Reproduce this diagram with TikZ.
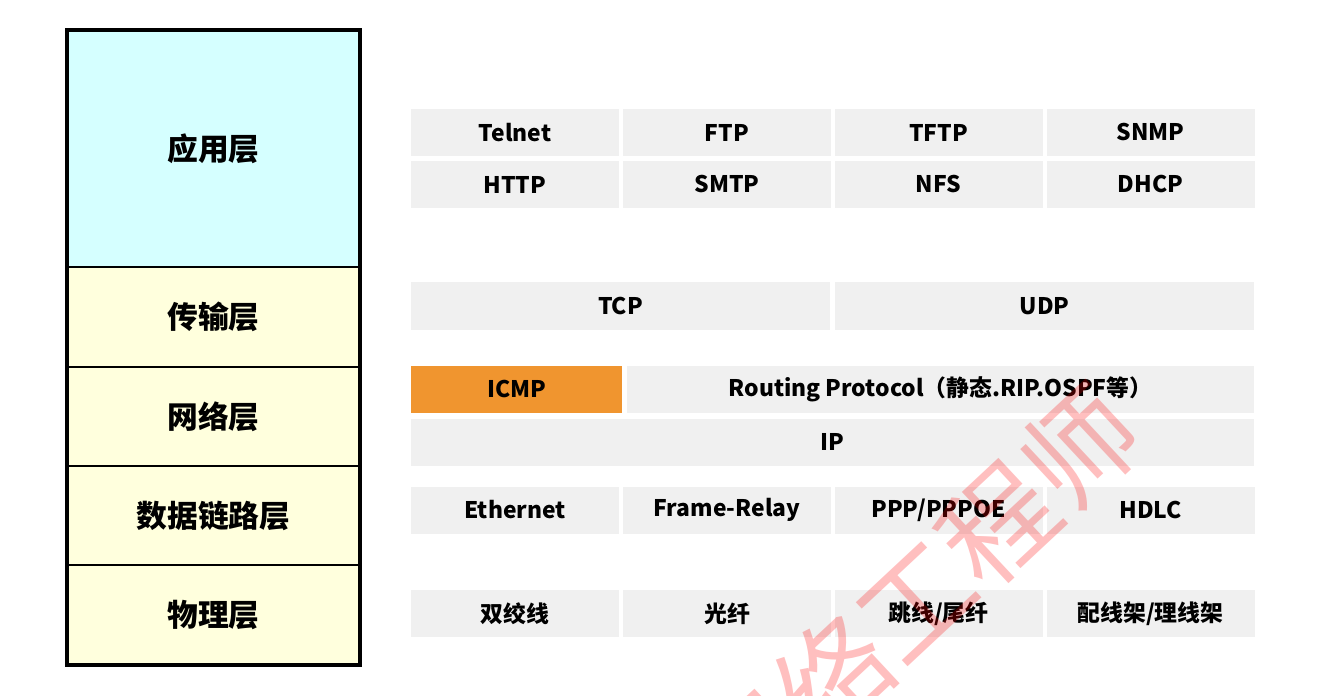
\documentclass[tikz,border=0pt]{standalone}
\usepackage{fontspec}
\setmainfont{Noto Sans CJK SC}
\definecolor{appfill}{HTML}{D5FFFF}
\definecolor{layerfill}{HTML}{FFFFDD}
\definecolor{cellfill}{HTML}{F0F0F0}
\definecolor{icmpfill}{HTML}{F0952F}
\begin{document}
\begin{tikzpicture}[
  layer/.style={draw, line width=1.1pt, fill=layerfill, minimum width=5.82cm, minimum height=1.98cm, inner sep=0pt, font=\fontsize{17.5}{20}\selectfont\bfseries},
  cell/.style={fill=cellfill, minimum width=4.16cm, minimum height=0.94cm, inner sep=0pt, font=\fontsize{13}{15}\selectfont\bfseries}
]
\useasboundingbox (0,0) rectangle (26.7,-13.92);
% layers on the left
\node[layer, fill=appfill, minimum height=4.72cm] (app) at (4.27,-2.98) {应用层};
\node[layer] (trans) at (4.27,-6.34) {传输层};
\node[layer] (net) at (4.27,-8.33) {网络层};
\node[layer] (link) at (4.27,-10.31) {数据链路层};
\node[layer] (phys) at (4.27,-12.29) {物理层};
\draw[line width=1.8pt] (app.north west) rectangle (phys.south east);
% application protocols
\node[cell] (telnet) at (10.3,-2.65) {Telnet};
\node[cell] (ftp) at (14.54,-2.65) {FTP};
\node[cell] (tftp) at (18.77,-2.65) {TFTP};
\node[cell] (snmp) at (23.01,-2.65) {SNMP};
\node[cell] (http) at (10.3,-3.69) {HTTP};
\node[cell] (smtp) at (14.54,-3.69) {SMTP};
\node[cell] (nfs) at (18.77,-3.69) {NFS};
\node[cell] (dhcp) at (23.01,-3.69) {DHCP};
% transport
\node[cell, minimum width=8.38cm] (tcp) at (12.41,-6.12) {TCP};
\node[cell, minimum width=8.38cm] (udp) at (20.89,-6.12) {UDP};
% network
\node[cell, fill=icmpfill, minimum width=4.22cm] (icmp) at (10.33,-7.79) {ICMP};
\node[cell, minimum width=12.54cm] (routing) at (18.81,-7.79) {Routing Protocol（静态.RIP.OSPF等）};
\node[cell, minimum width=16.86cm] (ip) at (16.65,-8.84) {IP};
% data link
\node[cell] (eth) at (10.3,-10.2) {Ethernet};
\node[cell] (fr) at (14.54,-10.2) {Frame-Relay};
\node[cell] (ppp) at (18.77,-10.2) {PPP/PPPOE};
\node[cell] (hdlc) at (23.01,-10.2) {HDLC};
% physical
\node[cell] (twisted) at (10.3,-12.27) {双绞线};
\node[cell] (fiber) at (14.54,-12.27) {光纤};
\node[cell] (jumper) at (18.77,-12.27) {跳线/尾纤};
\node[cell] (patch) at (23.01,-12.27) {配线架/理线架};
% watermark
\begin{scope}
\clip (0,0) rectangle (26.7,-13.92);
\node[rotate=43, text=red, opacity=0.25, font=\fontsize{64}{64}\selectfont] (mark) at (18.3,-12.0) {网络工程师};
\end{scope}
\end{tikzpicture}
\end{document}
